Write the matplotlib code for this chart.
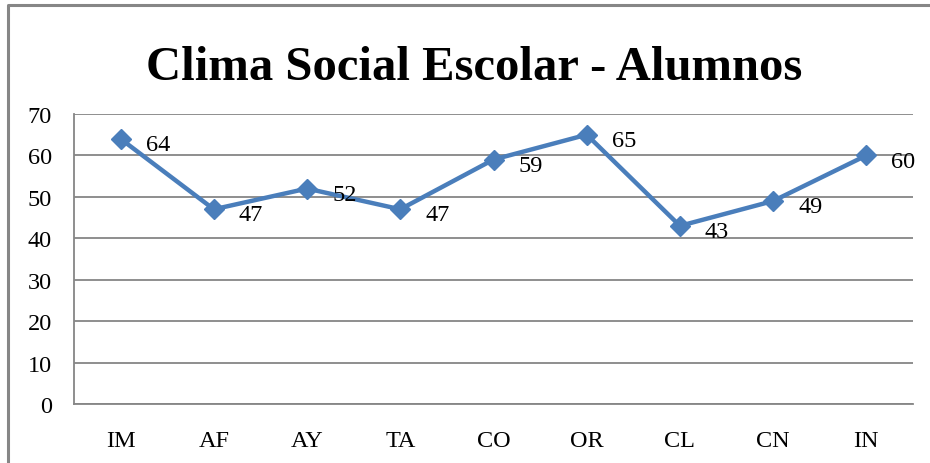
import matplotlib
matplotlib.use("Agg")
import matplotlib.pyplot as plt
from matplotlib.lines import Line2D

categories = ["IM", "AF", "AY", "TA", "CO", "OR", "CL", "CN", "IN"]
values = [64, 47, 52, 47, 59, 65, 43, 49, 60]
yticks = [0, 10, 20, 30, 40, 50, 60, 70]
title = "Clima Social Escolar - Alumnos"

plt.rcParams['font.family'] = ['Liberation Serif', 'DejaVu Serif']

W, H = 930, 464
fig = plt.figure(figsize=(W / 100, H / 100), dpi=100)
fig.patch.set_facecolor("white")

# outer chart border (right and bottom cropped)
fig.add_artist(Line2D([8 / W, 8 / W, 1.0], [0.0, 1 - 6 / H, 1 - 6 / H],
                      transform=fig.transFigure, color="#868686", lw=2.2))

ax = fig.add_axes([74 / W, (H - 405) / H, (913 - 74) / W, (405 - 115) / H])
x = list(range(len(categories)))
ax.plot(x, values, color="#4A7EBB", lw=3.2, marker="D", markersize=10,
        markerfacecolor="#4A7EBB", markeredgecolor="#4A7EBB", zorder=3,
        clip_on=False)
for xi, v in zip(x, values):
    ax.annotate(str(v), (xi, v), xytext=(18, -8), textcoords="offset points",
                ha="left", va="baseline", fontsize=17.5, color="black", zorder=4)

ax.set_xlim(-0.5, len(categories) - 0.5)
ax.set_ylim(0, 70)
ax.set_yticks(yticks)
ax.set_yticklabels([str(t) for t in yticks])
ax.set_xticks(x)
ax.set_xticklabels(categories)
ax.tick_params(axis="both", length=0, labelsize=17.5, colors="black")
ax.tick_params(axis="y", pad=16)
ax.tick_params(axis="x", pad=19)
ax.yaxis.grid(True, color="#868686", lw=1.3)
ax.set_axisbelow(True)
for s in ["top", "right"]:
    ax.spines[s].set_visible(False)
for s in ["left", "bottom"]:
    ax.spines[s].set_color("#868686")
    ax.spines[s].set_linewidth(1.3)

fig.text(474 / W, 1 - 80 / H, title, ha="center", va="baseline",
         fontsize=35, fontweight="bold", color="black")

fig.savefig("out.png", dpi=100)
